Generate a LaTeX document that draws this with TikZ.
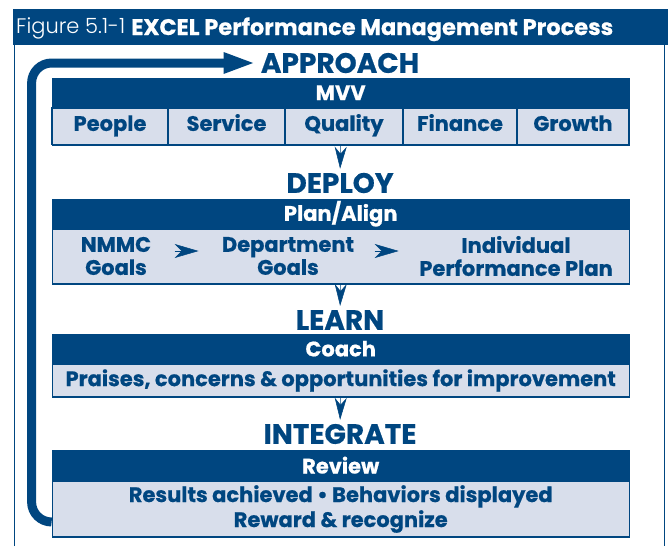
\documentclass[tikz,border=0pt]{standalone}
\usepackage{fontspec}
\setmainfont{Poppins}[BoldFont={Poppins Bold}, BoldFeatures={FakeBold=0.6}]
\newfontfamily\figfont{Poppins Light}
\usetikzlibrary{arrows.meta,positioning}
\definecolor{nmblue}{RGB}{0,70,128}
\definecolor{nmpale}{RGB}{216,222,235}
\tikzset{
  bar/.style={fill=nmblue, draw=nmblue, text=white, inner sep=0pt, minimum width=577pt,
    font=\bfseries\fontsize{21}{22}\selectfont},
  row/.style={fill=nmpale, draw=nmblue, line width=1.2pt, text=nmblue, inner sep=0pt,
    minimum width=577pt, align=center, font=\bfseries\fontsize{21}{25}\selectfont},
  cell/.style={draw=nmblue, line width=1.2pt, text=nmblue, inner sep=0pt, outer sep=0pt,
    minimum height=37pt, text height=15pt, text depth=5pt, font=\bfseries\fontsize{21}{22}\selectfont},
  words/.style={text=nmblue, inner sep=0pt, align=center, font=\bfseries\fontsize{21}{23}\selectfont},
  stage/.style={text=nmblue, inner sep=0pt, font=\bfseries\fontsize{28}{28}\selectfont},
  drop/.style={-{Stealth[length=22pt,width=12pt,inset=7pt]}, nmblue, line width=0.5pt, shorten >=4pt},
  nudge/.style={-{Stealth[length=24pt,width=14pt,inset=7pt]}, nmblue, line width=0.5pt},
  cycle/.style={-{Triangle[length=32pt,width=19pt]}, nmblue, line width=9pt, rounded corners=20pt, shorten >=5pt}
}

\begin{document}
\begin{tikzpicture}[x=1pt, y=-1pt]
    \useasboundingbox (0,0) rectangle (671,546);
    % frame and title
    \fill[nmblue] (13,9) rectangle (668,45);
    \draw[nmblue, line width=1.5pt] (14.5,546) -- (14.5,45) (664.5,45) -- (664.5,546);
    \node[anchor=base west, text=white, inner sep=0pt, font=\figfont\fontsize{21}{21}\selectfont] (fig) at (16,33) {Figure 5.1-1};
    \node[anchor=base west, text=white, inner sep=0pt, font=\bfseries\fontsize{22.5}{23}\selectfont] (title) at (131,35) {EXCEL Performance Management Process};

    % stages
    \node[stage] (approach) at (340,63) {APPROACH};
    \node[stage] (deploy) at (340,183) {DEPLOY};
    \node[stage] (learn) at (340,320) {LEARN};
    \node[stage] (integrate) at (340,434) {INTEGRATE};

    % approach
    \node[bar, minimum height=29pt, anchor=north west] (mvv) at (52,78) {MVV};
    \node[row, minimum height=37pt, below=0pt of mvv] (mvvrow) {};
    \node[cell, minimum width=116pt, anchor=north west] (people) at (mvv.south west) {People};
    \node[cell, minimum width=117pt, right=0pt of people] (service) {Service};
    \node[cell, minimum width=118pt, right=0pt of service] (quality) {Quality};
    \node[cell, minimum width=114pt, right=0pt of quality] (finance) {Finance};
    \node[cell, minimum width=112pt, right=0pt of finance] (growth) {Growth};

    % deploy
    \node[bar, minimum height=29pt, anchor=north west] (plan) at (52,199) {Plan/Align};
    \node[row, minimum height=55pt, below=0pt of plan] (planrow) {};
    \node[words] (nmmc) at (116,256) {NMMC\\Goals};
    \node[words] (dept) at (288,256) {Department\\Goals};
    \node[words] (indiv) at (516,256) {Individual\\Performance Plan};
    \path (nmmc.east) -- coordinate (gapa) (dept.west);
    \path (dept.east) -- coordinate (gapb) (indiv.west);
    \draw[nudge] ([yshift=5pt]gapa) ++(-12,0) -- ++(24,0);
    \draw[nudge] ([yshift=5pt]gapb) ++(-12,0) -- ++(24,0);

    % learn
    \node[bar, minimum height=29pt, anchor=north west] (coach) at (52,334) {Coach};
    \node[row, minimum height=33pt, below=0pt of coach] (coachrow) {Praises, concerns \& opportunities for improvement};

    % integrate
    \node[bar, minimum height=30pt, anchor=north west] (review) at (52,450) {Review};
    \node[row, minimum height=56pt, below=0pt of review] (reviewrow) {Results achieved \textbullet{} Behaviors displayed\\Reward \& recognize};

    % connectors
    \draw[drop] (mvvrow.south) -- (deploy.north);
    \draw[drop] (planrow.south) -- (learn.north);
    \draw[drop] (coachrow.south) -- (integrate.north);
    \draw[cycle] ([yshift=-13pt]reviewrow.west) -- ++(-20,0) |- (approach.west);
\end{tikzpicture}
\end{document}
